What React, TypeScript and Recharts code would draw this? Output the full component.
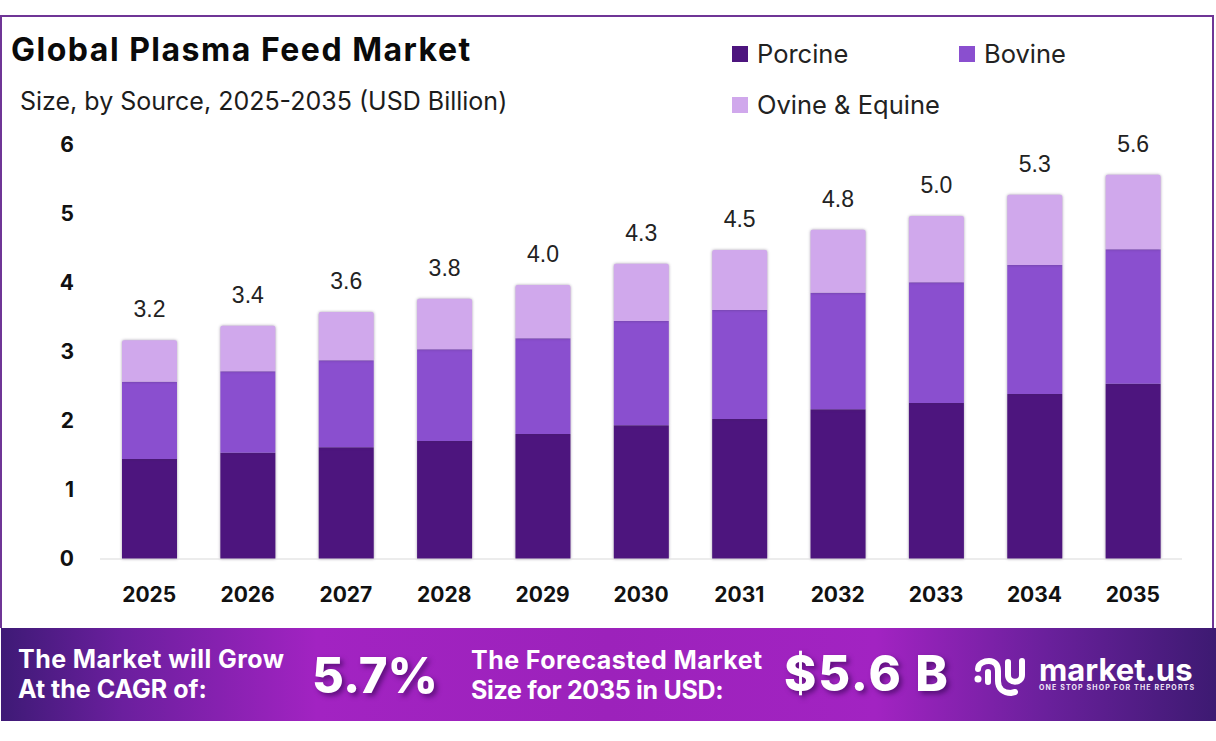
import { BarChart, Bar, XAxis, YAxis, Legend, LabelList } from "recharts";

const years = ["2025", "2026", "2027", "2028", "2029", "2030", "2031", "2032", "2033", "2034", "2035"];
const porcine = [1.45, 1.54, 1.62, 1.71, 1.81, 1.94, 2.03, 2.17, 2.26, 2.39, 2.54];
const bovine = [1.12, 1.18, 1.26, 1.33, 1.39, 1.51, 1.58, 1.69, 1.75, 1.87, 1.95];
const ovine = [0.6, 0.66, 0.7, 0.73, 0.77, 0.83, 0.87, 0.91, 0.96, 1.02, 1.08];
const totals = ["3.2", "3.4", "3.6", "3.8", "4.0", "4.3", "4.5", "4.8", "5.0", "5.3", "5.6"];
const yTicks = [0, 1, 2, 3, 4, 5, 6];

const chartData = years.map((year, i) => ({
  year,
  porcine: porcine[i],
  bovine: bovine[i],
  ovine: ovine[i],
  total: totals[i],
}));

const FONT = "Inter, 'Open Sans', sans-serif";
const barShadow = { filter: "drop-shadow(0 0 1.5px rgba(60,40,80,0.45))" };

function LegendBox({ payload }: any) {
  const spots = [
    { left: 0, top: 0 },
    { left: 227, top: 0 },
    { left: 0, top: 51 },
  ];
  return (
    <div style={{ position: "relative", width: 360, height: 80 }}>
      {(payload || []).map((item: any, i: number) => (
        <div key={item.value} style={{ position: "absolute", ...spots[i], display: "flex", alignItems: "center", whiteSpace: "nowrap" }}>
          <span style={{ width: 16, height: 16, background: item.color, marginRight: 9 }} />
          <span style={{ fontFamily: FONT, fontSize: 25.5, color: "#222", lineHeight: "28px" }}>{item.value}</span>
        </div>
      ))}
    </div>
  );
}

const bannerText: React.CSSProperties = {
  position: "absolute",
  color: "#fff",
  fontFamily: FONT,
  fontWeight: 700,
  fontSize: 25,
  letterSpacing: 0.45,
  lineHeight: "30px",
  whiteSpace: "nowrap",
};

const bigText: React.CSSProperties = {
  position: "absolute",
  color: "#fff",
  fontFamily: FONT,
  fontWeight: 800,
  fontSize: 49,
  lineHeight: "56px",
  whiteSpace: "nowrap",
  textShadow: "3px 3px 5px rgba(40,0,70,0.55)",
};

export default function App() {
  return (
    <div style={{ position: "absolute", left: 0, top: 0, width: 1216, height: 741, background: "#fff", overflow: "hidden" }}>
      <div style={{ position: "absolute", left: 0, top: 15, width: 1214, height: 613, boxSizing: "border-box", borderTop: "2px solid #6f3596", borderLeft: "2px solid #6f3596", borderRight: "2px solid #6f3596" }} />

      <div style={{ position: "absolute", left: 11, top: 30, fontFamily: FONT, fontWeight: 700, fontSize: 32, letterSpacing: 1.5, lineHeight: "40px", color: "#0a0a0a", whiteSpace: "nowrap" }}>
        Global Plasma Feed Market
      </div>
      <div style={{ position: "absolute", left: 20, top: 84, fontFamily: FONT, fontSize: 25, lineHeight: "34px", color: "#1c1c1c", whiteSpace: "nowrap" }}>
        Size, by Source, 2025-2035 (USD Billion)
      </div>

      <div style={{ position: "absolute", left: 0, top: 0 }}>
        <BarChart width={1216} height={741} data={chartData} barSize={55} margin={{ top: 145, right: 34, bottom: 0, left: 0 }}>
          <XAxis
            dataKey="year"
            height={182}
            stroke="#d9d9d9"
            tickLine={false}
            tickMargin={22}
            tick={{ fill: "#111", fontSize: 21, fontWeight: 700, fontFamily: FONT }}
          />
          <YAxis
            width={100}
            domain={[0, 6]}
            ticks={yTicks}
            axisLine={false}
            tickLine={false}
            tickSize={0}
            tickMargin={26}
            tick={{ fill: "#111", fontSize: 21, fontWeight: 700, fontFamily: FONT }}
          />
          <Legend
            align="center"
            verticalAlign="middle"
            itemSorter={null}
            content={<LegendBox />}
            wrapperStyle={{ left: 732, top: 40, width: 360, height: 80 }}
          />
          <Bar dataKey="porcine" name="Porcine" stackId="a" fill="#4d157e" style={barShadow} isAnimationActive={false} />
          <Bar dataKey="bovine" name="Bovine" stackId="a" fill="#8a4fcf" style={barShadow} isAnimationActive={false} />
          <Bar dataKey="ovine" name="Ovine & Equine" stackId="a" fill="#d0a8ec" radius={[2, 2, 0, 0]} style={barShadow} isAnimationActive={false}>
            <LabelList dataKey="total" position="top" offset={23} fill="#222" fontSize={23} fontFamily="'Liberation Sans', Arial, sans-serif" />
          </Bar>
        </BarChart>
      </div>

      <div style={{ position: "absolute", left: 1, top: 628, width: 1215, height: 93, background: "linear-gradient(90deg, #3e1a76 0%, #6b1f9e 10%, #a223c2 26%, #9c22bb 50%, #a223c2 72%, #6a209c 86%, #3d1a72 100%)" }} />
      <div style={{ ...bannerText, left: 18, top: 644 }}>The Market will Grow</div>
      <div style={{ ...bannerText, left: 18, top: 674, letterSpacing: 0 }}>At the CAGR of:</div>
      <div style={{ ...bigText, left: 312, top: 648 }}>5.7%</div>
      <div style={{ ...bannerText, left: 471, top: 645 }}>The Forecasted Market</div>
      <div style={{ ...bannerText, left: 471, top: 675, letterSpacing: -0.3 }}>Size for 2035 in USD:</div>
      <div style={{ ...bigText, left: 784, top: 646, letterSpacing: 1.8 }}>$5.6 B</div>

      <svg style={{ position: "absolute", left: 965, top: 645 }} width={75} height={60} viewBox="0 0 75 60">
        <circle cx={13} cy={34} r={3.5} fill="#fff" />
        <path d="M13 24 C13 18 20 16 24 16 C30 16 33 20 33 26 L33 36 C33 44 39 48 46 48 L50 47 M23 27 L23 37 M43 17 L43 30 C43 39 57 39 57 30 L57 16" fill="none" stroke="#fff" strokeWidth={6} strokeLinecap="round" />
      </svg>
      <div style={{ position: "absolute", left: 1039, top: 658, fontFamily: FONT, fontWeight: 700, fontSize: 31, lineHeight: "24px", color: "#fff", whiteSpace: "nowrap" }}>market.us</div>
      <div style={{ position: "absolute", left: 1039, top: 684, fontFamily: FONT, fontWeight: 700, fontSize: 7, lineHeight: "8px", letterSpacing: 1.15, color: "#f0e6f7", whiteSpace: "nowrap" }}>ONE STOP SHOP FOR THE REPORTS</div>
    </div>
  );
}
